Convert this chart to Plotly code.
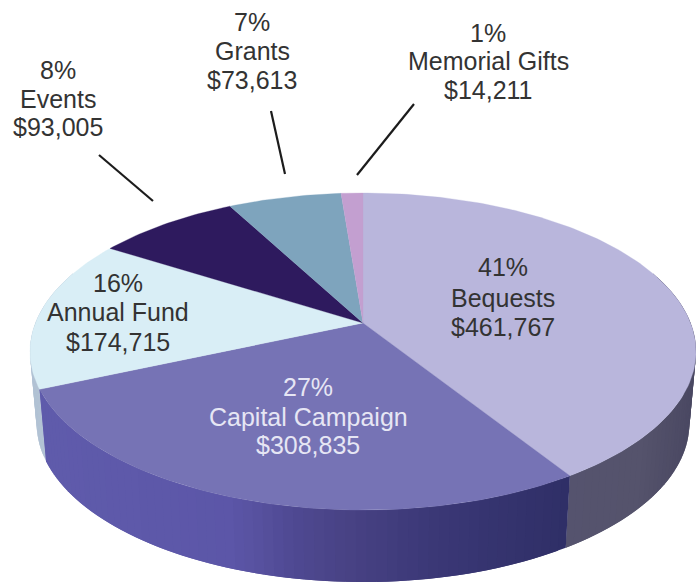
import math
import plotly.graph_objects as go

categories = ["Bequests", "Capital Campaign", "Annual Fund", "Events", "Grants", "Memorial Gifts"]
amounts = [461767, 308835, 174715, 93005, 73613, 14211]
percents = ["41%", "27%", "16%", "8%", "7%", "1%"]
top_colors = ["#b9b6dc", "#7673b5", "#d9eef6", "#2e1a5e", "#7ea4bd", "#c39fd0"]

# projection of the tilted disc onto the page (pixel-valued data axes)
CX, CY, A, S, K = 363, 323, 327.6, 153.4, 0.18
DEPTH, SHRINK = 72, 0.98


def project(deg):
    t = math.radians(deg)
    u, v = math.sin(t), -math.cos(t)
    d = 1 - K * v
    return CX + A * u / d, CY + S * v / d


def lower(p):
    return CX + (p[0] - CX) * SHRINK, p[1] + DEPTH


wall_stops = {
    0: [(0, "#4e4c66"), (570, "#55536e"), (640, "#55536c"), (696, "#4a4862")],
    1: [(48, "#5f5bab"), (230, "#5c56a8"), (300, "#4e4890"), (348, "#484284"),
        (430, "#3b3877"), (570, "#2f2f66")],
    2: [(0, "#a9bbcf"), (60, "#b9c8d8")],
}


def hex_rgb(h):
    return [int(h[i:i + 2], 16) for i in (1, 3, 5)]


def wall_color(i, x):
    stops = wall_stops[i]
    if x <= stops[0][0]:
        return stops[0][1]
    for (x0, c0), (x1, c1) in zip(stops, stops[1:]):
        if x <= x1:
            f = (x - x0) / (x1 - x0)
            a, b = hex_rgb(c0), hex_rgb(c1)
            return "rgb(%d,%d,%d)" % tuple(round(p + (q - p) * f) for p, q in zip(a, b))
    return stops[-1][1]


total = sum(amounts)
edges = [0]
for a in amounts:
    edges.append(edges[-1] + a / total * 360)

fig = go.Figure()


def poly(xs, ys, color, lw=0.0):
    fig.add_trace(go.Scatter(x=xs, y=ys, mode="lines", fill="toself", fillcolor=color,
                             line=dict(color=color, width=lw), hoverinfo="skip", showlegend=False))


# side wall, built in thin strips that overlap so no seam shows between them
for i in (2, 0, 1):
    lo, hi = edges[i], edges[i + 1]
    lo, hi = max(lo, 70), min(hi, 290)
    n = max(1, int((hi - lo) / 1.5))
    order = range(n)
    for j in order:
        a0 = lo + (hi - lo) * j / n
        a1 = lo + (hi - lo) * (j + 1) / n
        a_end = min(hi, a1 + (hi - lo) / n)
        p0, p1 = project(a0), project(a_end)
        q0, q1 = lower(p0), lower(p1)
        mid = project((a0 + a1) / 2)
        poly([p0[0], p1[0], q1[0], q0[0], p0[0]], [p0[1], p1[1], q1[1], q0[1], p0[1]],
             wall_color(i, mid[0]), 0)

# top face
for i in range(len(amounts)):
    n = max(2, int((edges[i + 1] - edges[i]) / 1.0))
    pts = [project(edges[i] + (edges[i + 1] - edges[i]) * j / n) for j in range(n + 1)]
    poly([CX] + [p[0] for p in pts] + [CX], [CY] + [p[1] for p in pts] + [CY], top_colors[i], 0.3)

# leader lines
leaders = {3: [(99, 155), (153, 201)], 4: [(271, 111), (285, 174)], 5: [(414, 104), (357, 175)]}
for pts in leaders.values():
    fig.add_trace(go.Scatter(x=[p[0] for p in pts], y=[p[1] for p in pts], mode="lines",
                             line=dict(color="#1c1c1c", width=2.2), hoverinfo="skip", showlegend=False))

label_pos = {0: (503, 267, 298, 327), 1: (308, 387, 417, 445), 2: (118, 283, 312, 342),
             3: (58, 70, 99, 127), 4: (252, 22, 51, 80), 5: (488, 33, 61, 90)}
annotations = []
for i, (x, y0, y1, y2) in label_pos.items():
    col = "#e6e6f4" if i == 1 else "#333333"
    for txt, y in zip([percents[i], categories[i], "${:,}".format(amounts[i])], (y0, y1, y2)):
        annotations.append(dict(x=x, y=y, xref="x", yref="y", text=txt, showarrow=False,
                                xanchor="center", yanchor="middle",
                                font=dict(family="Liberation Sans", size=25, color=col)))

fig.update_layout(
    width=696, height=583, margin=dict(l=0, r=0, t=0, b=0), autosize=False,
    paper_bgcolor="white", plot_bgcolor="white", showlegend=False, annotations=annotations,
    xaxis=dict(range=[0, 696], visible=False, fixedrange=True),
    yaxis=dict(range=[583, 0], visible=False, fixedrange=True),
)
fig.write_html("out.html", post_script="document.body.style.margin='0';", config={"displayModeBar": False})
